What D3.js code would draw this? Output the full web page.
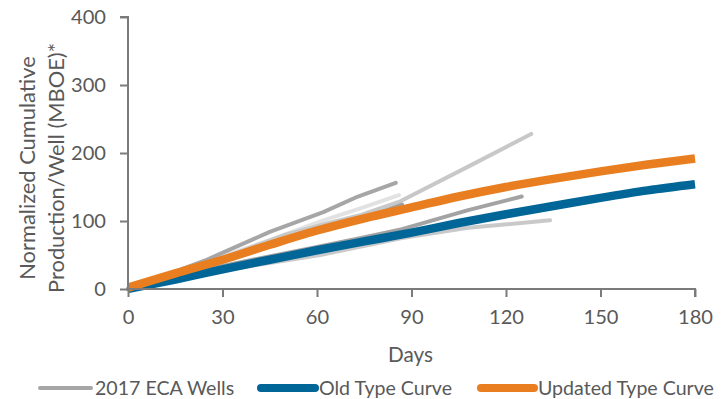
<!DOCTYPE html>
<html>
<head>
<meta charset="utf-8">
<script src="https://cdn.jsdelivr.net/npm/d3@7"></script>
<style>
  html, body { margin: 0; padding: 0; background: #fff; }
  svg { display: block; }
  text { font-family: "Lato", "Open Sans", sans-serif; fill: #595959; }
</style>
</head>
<body>
<svg id="chart" width="724" height="399"></svg>
<script>
// ---------------- data ----------------
const xTicks = [0, 30, 60, 90, 120, 150, 180];
const yTicks = [0, 100, 200, 300, 400];

// 2017 ECA wells: [day, cumulative MBOE]
const well1 = [[0,0],[25,43],[45,84],[62,113],[73,136],[85,156]];
const well2 = [[0,0],[25,40],[45,72],[62,101],[74,119],[86,138]];
const well3 = [[0,0],[30,45],[50,80],[62,95],[74,109],[86,128],[108,180],[128,228]];
const well4 = [[0,0],[30,34],[60,62],[74,75],[87,88],[108,116],[125,136]];
const well5 = [[0,0],[30,27],[61,50],[87,75],[108,90],[134,101]];
const well6 = [[0,0],[30,44],[60,86],[75,104],[87,124]];
const wells = [well5, well4, well2, well1, well3, well6];
const wellColors = ["#c9c9c9", "#a3a3a3", "#e2e2e2", "#a6a6a6", "#c8c8c8", "#a0a0a0"];

const oldTypeCurve = [[0,0],[15,14],[30,29],[45,43],[60,57],[75,70],[90,83],[105,97],[120,110],[135,122],[150,134],[165,145],[180,154]];
const updatedTypeCurve = [[0,2],[15,23],[30,43],[45,65],[60,86],[75,104],[90,120],[105,136],[120,150],[135,162],[150,173],[165,183],[180,192]];

const legendLabels = ["2017 ECA Wells", "Old Type Curve", "Updated Type Curve"];
const xTitle = "Days";
const yTitleLines = ["Normalized Cumulative", "Production/Well (MBOE)*"];

// ---------------- layout ----------------
const svg = d3.select("#chart");
const X0 = 128, X1 = 695, Y0 = 289, Y1 = 17;
const x = d3.scaleLinear().domain([0, 180]).range([X0, X1]);
const y = d3.scaleLinear().domain([0, 400]).range([Y0, Y1]);

const axisColor = "#7b7b7b";
const orange = "#e87e1f";
const blue = "#006597";

function fitSize(str, targetWidth, base) {
  const t = svg.append("text").attr("font-size", base).text(str);
  const w = t.node().getComputedTextLength();
  t.remove();
  return base * targetWidth / w;
}
const tickSize = fitSize("400", 35, 20);
const legendSize = fitSize("Updated Type Curve", 176, 20);
const yTitleSize = fitSize(yTitleLines[1], 250, 20);
const xTitleSize = fitSize(xTitle, 45, 20);

// ---------------- lines ----------------
const smooth = d3.line().x(d => x(d[0])).y(d => y(d[1])).curve(d3.curveMonotoneX);
const straight = d3.line().x(d => x(d[0])).y(d => y(d[1])).curve(d3.curveLinear);

const g = svg.append("g");
wells.forEach((w, i) => {
  g.append("path").attr("d", straight(w))
    .attr("fill", "none").attr("stroke", wellColors[i])
    .attr("stroke-width", 4).attr("stroke-linecap", "round").attr("stroke-linejoin", "round");
});
g.append("path").attr("d", smooth(oldTypeCurve))
  .attr("fill", "none").attr("stroke", blue).attr("stroke-width", 8.5);
g.append("path").attr("d", smooth(updatedTypeCurve))
  .attr("fill", "none").attr("stroke", orange).attr("stroke-width", 8.5);

// ---------------- axes ----------------
const yAxis = svg.append("g").attr("transform", `translate(${X0},0)`)
  .call(d3.axisLeft(y).tickValues(yTicks).tickSize(8).tickPadding(14).tickFormat(d3.format("d")));
const xAxis = svg.append("g").attr("transform", `translate(0,${Y0})`)
  .call(d3.axisBottom(x).tickValues(xTicks).tickSize(8).tickPadding(13).tickFormat(d3.format("d")));
[yAxis, xAxis].forEach(a => {
  a.select(".domain").attr("stroke", axisColor).attr("stroke-width", 2);
  a.selectAll(".tick line").attr("stroke", axisColor).attr("stroke-width", 2);
  a.selectAll(".tick text").attr("font-size", tickSize).attr("fill", "#595959")
    .attr("font-family", "Lato, 'Open Sans', sans-serif");
});
yAxis.select(".domain").attr("d", `M-8,${Y1}H0V${Y0}`);
xAxis.select(".domain").attr("d", `M${X0},0H${X1}V8`);

// ---------------- titles ----------------
svg.append("text").attr("x", (X0 + X1) / 2 - 1).attr("y", 362)
  .attr("text-anchor", "middle").attr("font-size", xTitleSize).text(xTitle);

yTitleLines.forEach((s, i) => {
  svg.append("text")
    .attr("transform", `translate(${[28, 57][i] + 7},168) rotate(-90)`)
    .attr("text-anchor", "middle").attr("font-size", yTitleSize).text(s);
});

// ---------------- legend ----------------
const legendY = 388;
const legendItems = [
  { label: legendLabels[0], color: "#a6a6a6", x0: 40, x1: 91, w: 4 },
  { label: legendLabels[1], color: blue, x0: 261, x1: 315, w: 8 },
  { label: legendLabels[2], color: orange, x0: 481, x1: 534, w: 8 }
];
legendItems.forEach(it => {
  svg.append("line").attr("x1", it.x0).attr("x2", it.x1)
    .attr("y1", legendY).attr("y2", legendY)
    .attr("stroke", it.color).attr("stroke-width", it.w).attr("stroke-linecap", "round");
  svg.append("text").attr("x", it.x1 + 4).attr("y", legendY + legendSize * 0.35)
    .attr("font-size", legendSize).text(it.label);
});
</script>
</body>
</html>
